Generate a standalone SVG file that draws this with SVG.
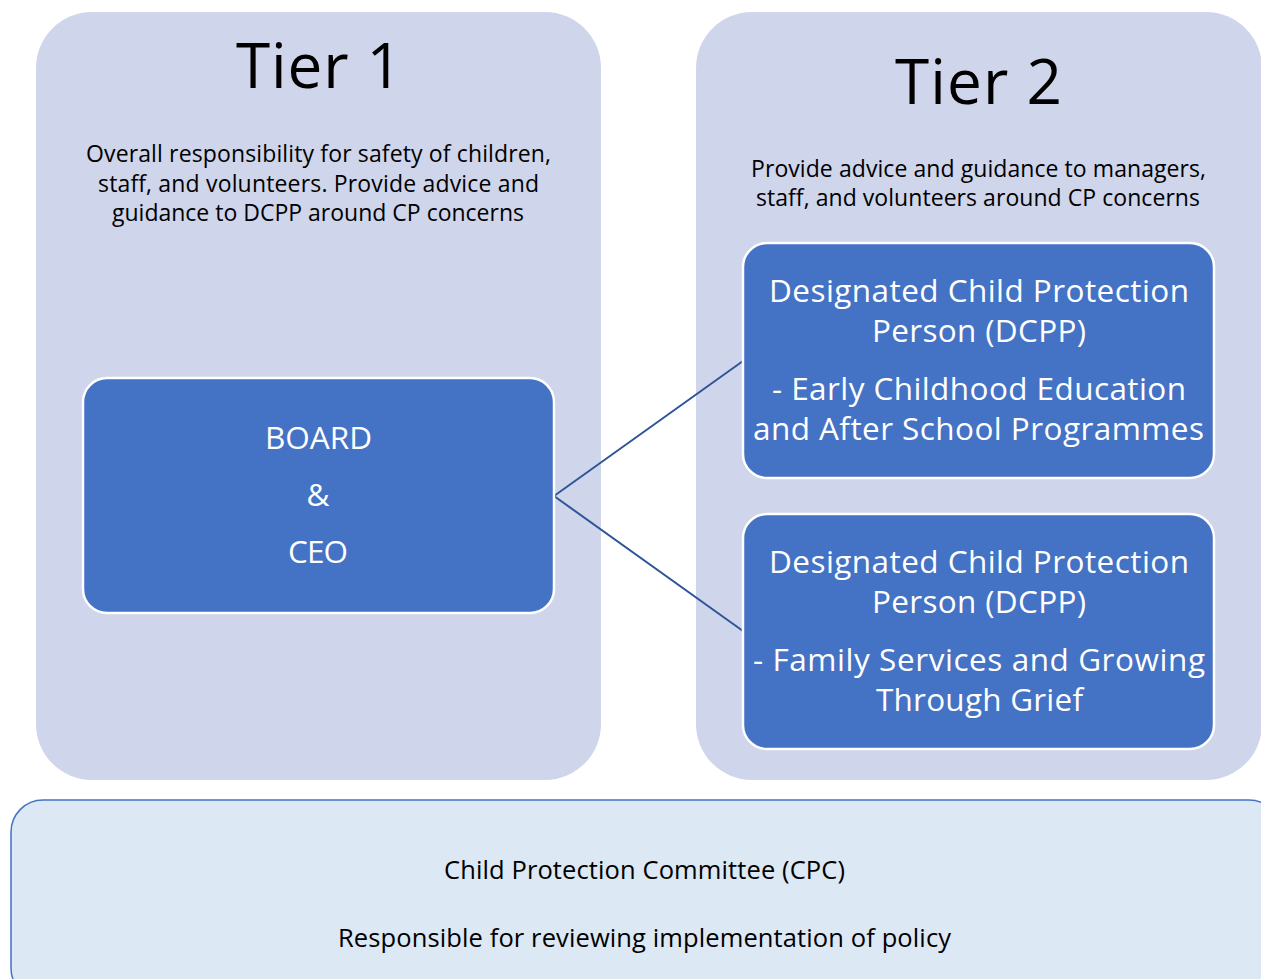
<svg xmlns="http://www.w3.org/2000/svg" width="1261" height="979" viewBox="0 0 1261 979">
  <style>
    .panel { fill: #cfd5ea; }
    .box { fill: #4472c4; stroke: #ffffff; stroke-width: 2.5; }
    .cpc { fill: #dde8f5; stroke: #4472c4; stroke-width: 1.5; }
    text { font-family: "Open Sans", "Liberation Sans", Arial, sans-serif; text-anchor: middle; }
    .title { font-size: 62px; fill: #000000; }
    .desc { font-size: 23px; fill: #000000; }
    .label { font-size: 31.5px; fill: #ffffff; }
    .note { font-size: 25.5px; fill: #000000; }
    .link { stroke: #2f5597; stroke-width: 2; fill: none; }
  </style>
  <rect width="1261" height="979" fill="#ffffff"/>

  <!-- Tier 1 panel -->
  <g id="tier1">
    <rect class="panel" x="36" y="12" width="565" height="768" rx="56" ry="56"/>
    <text class="title" x="319" y="88" textLength="166">Tier 1</text>
    <text class="desc" x="318.5" y="162" textLength="465">Overall responsibility for safety of children,</text>
    <text class="desc" x="318.5" y="192" textLength="441">staff, and volunteers. Provide advice and</text>
    <text class="desc" x="318" y="221" textLength="412">guidance to DCPP around CP concerns</text>
  </g>

  <!-- Tier 2 panel -->
  <g id="tier2">
    <rect class="panel" x="696" y="12" width="566" height="768" rx="56" ry="56"/>
    <text class="title" x="978.5" y="104" textLength="167">Tier 2</text>
    <text class="desc" x="978.5" y="177" textLength="455">Provide advice and guidance to managers,</text>
    <text class="desc" x="978" y="206" textLength="444">staff, and volunteers around CP concerns</text>
  </g>

  <!-- Committee -->
  <g id="cpc">
    <rect class="cpc" x="11" y="800" width="1270" height="200" rx="32" ry="32"/>
    <text class="note" x="644.5" y="879" textLength="401">Child Protection Committee (CPC)</text>
    <text class="note" x="644.5" y="947" textLength="613">Responsible for reviewing implementation of policy</text>
  </g>

  <!-- Connectors -->
  <g id="connectors">
    <line class="link" x1="554" y1="496" x2="743" y2="361"/>
    <line class="link" x1="554" y1="496" x2="743" y2="631"/>
  </g>

  <!-- Board & CEO -->
  <g id="board">
    <rect class="box" x="83" y="378" width="471" height="235" rx="24" ry="24"/>
    <text class="label" x="318.5" y="449" textLength="107">BOARD</text>
    <text class="label" x="318" y="506">&amp;</text>
    <text class="label" x="318" y="563" textLength="60">CEO</text>
  </g>

  <!-- DCPP early childhood -->
  <g id="dcpp-ece">
    <rect class="box" x="743" y="243" width="471" height="235" rx="24" ry="24"/>
    <text class="label" x="979" y="302" textLength="420">Designated Child Protection</text>
    <text class="label" x="979" y="342" textLength="214">Person (DCPP)</text>
    <text class="label" x="979" y="400" textLength="414">- Early Childhood Education</text>
    <text class="label" x="978.5" y="440" textLength="451">and After School Programmes</text>
  </g>

  <!-- DCPP family services -->
  <g id="dcpp-family">
    <rect class="box" x="743" y="514" width="471" height="235" rx="24" ry="24"/>
    <text class="label" x="979" y="573" textLength="420">Designated Child Protection</text>
    <text class="label" x="979" y="613" textLength="214">Person (DCPP)</text>
    <text class="label" x="979" y="671" textLength="452">- Family Services and Growing</text>
    <text class="label" x="979.5" y="711" textLength="207">Through Grief</text>
  </g>
</svg>
